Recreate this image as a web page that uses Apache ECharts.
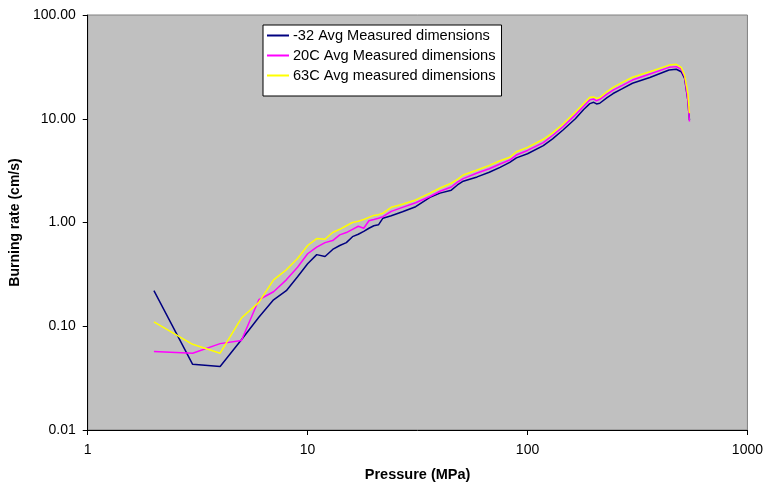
<!DOCTYPE html>
<html>
<head>
<meta charset="utf-8">
<script src="https://cdn.jsdelivr.net/npm/echarts@6/dist/echarts.min.js"></script>
<style>
html,body{margin:0;padding:0;background:#fff;}
#chart{width:766px;height:489px;}
</style>
</head>
<body>
<div id="chart"></div>
<script>
const pressure = [2,3,4,5,6,7,8,9,10,11,12,13,14,15,16,17,18,19,20,21,22,24,27,31,36,40,45,48,51,59,67,75,83,89,100,118,130,145,165,180,192,200,206,213,230,245,270,300,360,440,475,500,518,536,545];
const minus32 = [0.22,0.043,0.041,0.074,0.122,0.18,0.22,0.30,0.40,0.49,0.47,0.55,0.60,0.64,0.73,0.77,0.82,0.88,0.93,0.95,1.10,1.16,1.27,1.42,1.75,1.92,2.05,2.3,2.5,2.75,3.05,3.4,3.8,4.2,4.6,5.5,6.4,7.8,10.0,12.3,14.0,14.4,13.9,14.1,16.0,17.5,19.5,22,25,29.5,30,28.4,24.5,15,9.7];
const c20 = [0.057,0.055,0.068,0.073,0.18,0.215,0.28,0.37,0.50,0.58,0.64,0.67,0.76,0.80,0.86,0.92,0.88,1.04,1.07,1.10,1.14,1.28,1.40,1.55,1.78,2.0,2.2,2.45,2.65,3.0,3.3,3.66,4.0,4.47,4.95,5.88,6.9,8.38,10.9,13.2,15.2,15.5,14.9,15.4,17.3,18.9,21,23.6,27,31.3,31.8,30.0,25.4,15.2,9.4];
const c63 = [0.11,0.067,0.055,0.12,0.17,0.28,0.35,0.45,0.60,0.70,0.69,0.80,0.86,0.93,1.00,1.03,1.07,1.12,1.17,1.19,1.23,1.40,1.50,1.65,1.92,2.15,2.39,2.6,2.87,3.21,3.55,3.94,4.25,4.81,5.3,6.34,7.3,8.89,11.6,14.0,16.1,16.2,15.7,16.0,18.3,20.1,22.4,25.1,28.4,32.9,33.5,31.3,26.3,17.6,11.3];
const seriesNames = ['-32 Avg Measured dimensions','20C Avg Measured dimensions','63C Avg measured dimensions'];
const seriesColors = ['#000080','#FF00FF','#FFFF00'];
const seriesValues = [minus32, c20, c63];

const font = '"Liberation Sans", Arial, sans-serif';
const chart = echarts.init(document.getElementById('chart'), null, {renderer:'canvas'});
chart.setOption({
  animation: false,
  backgroundColor: '#ffffff',
  textStyle: {fontFamily: font},
  grid: {left: 86, right: 18, top: 15, bottom: 59, show: true, backgroundColor: '#C0C0C0', borderColor: '#808080', borderWidth: 1},
  legend: {
    orient: 'vertical', left: 263, top: 25,
    backgroundColor: '#ffffff', borderColor: '#000000', borderWidth: 1, borderRadius: 0,
    padding: [3, 6, 13, 4], itemGap: 5, itemWidth: 22, itemHeight: 2,
    icon: 'rect',
    textStyle: {fontFamily: font, fontSize: 14.6, color: '#000', padding: [0,0,0,-1]},
    data: seriesNames
  },
  xAxis: {
    type: 'log', logBase: 10, min: 1, max: 1000, interval: 1,
    name: 'Pressure (MPa)', nameLocation: 'middle', nameGap: 37,
    nameTextStyle: {fontFamily: font, fontSize: 14.5, fontWeight: 'bold', color: '#000'},
    axisLine: {show: true, onZero: false, lineStyle: {color: '#000', width: 1}},
    axisTick: {show: true, length: 5, lineStyle: {color: '#000'}},
    minorTick: {show: false},
    splitLine: {show: false},
    axisLabel: {fontFamily: font, fontSize: 14, color: '#000', margin: 13, formatter: v => String(Math.round(v))}
  },
  yAxis: {
    type: 'log', logBase: 10, min: 0.01, max: 100, interval: 1,
    name: 'Burning rate (cm/s)', nameLocation: 'middle', nameGap: 60,
    nameTextStyle: {fontFamily: font, fontSize: 14, fontWeight: 'bold', color: '#000'},
    axisLine: {show: true, onZero: false, lineStyle: {color: '#000', width: 1}},
    axisTick: {show: true, length: 5, lineStyle: {color: '#000'}},
    splitLine: {show: false},
    axisLabel: {fontFamily: font, fontSize: 14, color: '#000', margin: 12, formatter: v => Number(v).toFixed(2)}
  },
  series: seriesNames.map((n, k) => ({
    name: n, type: 'line', showSymbol: false, symbol: 'none',
    data: pressure.map((p, i) => [p, seriesValues[k][i]]),
    lineStyle: {color: seriesColors[k], width: 1.5},
    itemStyle: {color: seriesColors[k]},
    emphasis: {disabled: true}
  }))
});
</script>
</body>
</html>
